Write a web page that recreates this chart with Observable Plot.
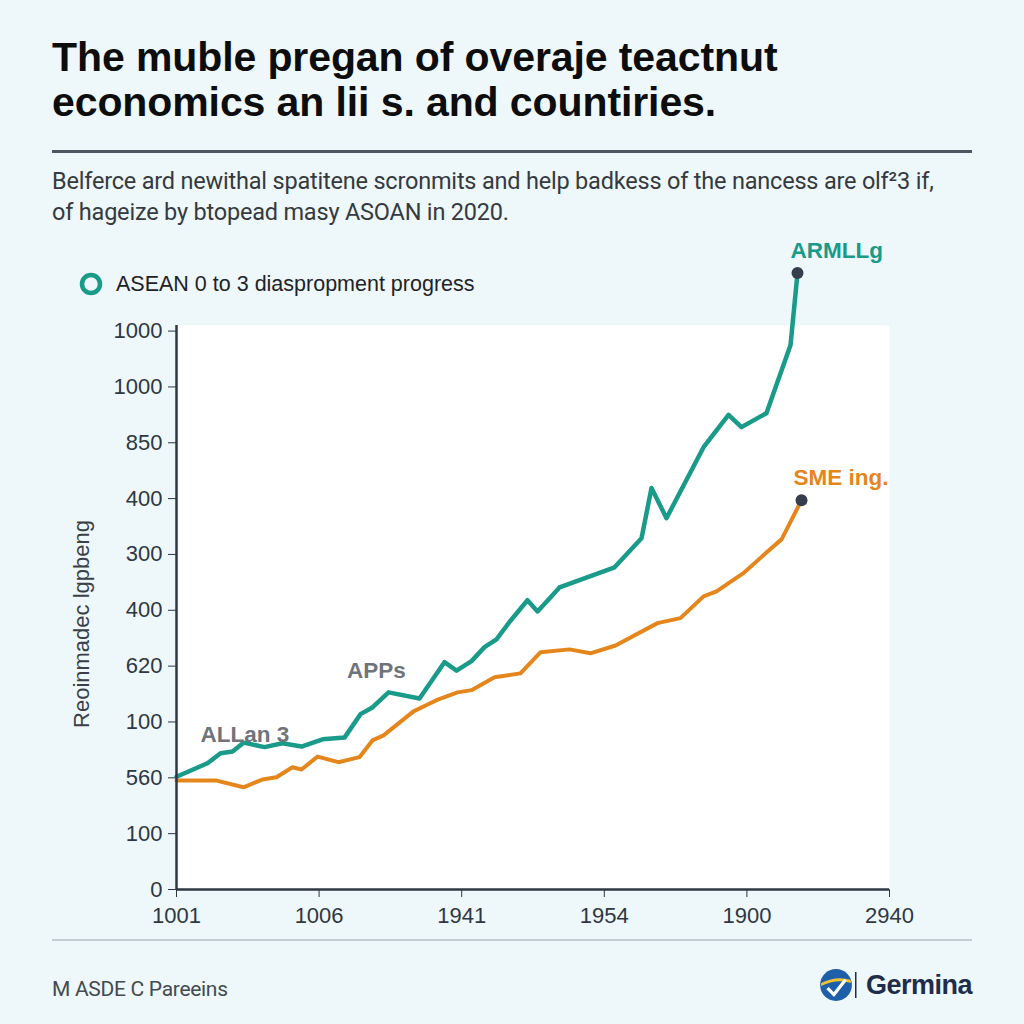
<!DOCTYPE html>
<html>
<head>
<meta charset="utf-8">
<script src="https://cdn.jsdelivr.net/npm/d3@7"></script>
<script src="https://cdn.jsdelivr.net/npm/@observablehq/plot@0.6"></script>
<style>
  html, body { margin: 0; padding: 0; background: #eef7f9; }
  #page { position: relative; width: 1024px; height: 1024px; background: #eef7f9; overflow: hidden; font-family: "Liberation Sans", Arial, sans-serif; }
  .abs { position: absolute; white-space: nowrap; }
  #title { left: 52px; top: 35px; font-size: 41px; font-weight: bold; line-height: 45px; color: #0d0d0d; letter-spacing: -0.1px; }
  #rule1 { left: 52px; top: 150px; width: 920px; height: 3px; background: #4d5761; }
  #subtitle { left: 52px; top: 166px; font-family: Roboto, "Liberation Sans", sans-serif; font-size: 23.5px; line-height: 31px; color: #353a40; letter-spacing: -0.2px; }
  #legend { left: 78px; top: 271px; font-size: 21.5px; color: #1e2328; display: flex; align-items: center; }
  #legend svg { margin-right: 12px; }
  #ytitle { left: 82px; top: 624px; font-size: 22px; color: #3a4048; transform: translate(-50%, -50%) rotate(-90deg); }
  #plot { left: 0; top: 230px; }
  #rule2 { left: 52px; top: 939px; width: 920px; height: 2px; background: #c3ccd1; }
  #footer { left: 52px; top: 977px; font-family: Roboto, "Liberation Sans", sans-serif; font-size: 21px; color: #444a50; letter-spacing: -0.3px; }
  #logo { left: 818px; top: 967px; display: flex; align-items: center; }
  #logo .name { font-size: 27px; font-weight: bold; color: #1f2d4a; letter-spacing: -0.5px; margin-left: 8px; }
</style>
</head>
<body>
<div id="page">
  <div id="title" class="abs">The muble pregan of overaje teactnut<br>economics an lii s. and countiries.</div>
  <div id="rule1" class="abs"></div>
  <div id="subtitle" class="abs">Belferce ard newithal spatitene scronmits and help badkess of the nancess are olf²3 if,<br>of hageize by btopead masy ASOAN in 2020.</div>
  <div id="legend" class="abs"><svg width="26" height="26"><circle cx="13" cy="13" r="9" fill="none" stroke="#1a9a88" stroke-width="4.5"/></svg><span>ASEAN 0 to 3 diaspropment progress</span></div>
  <div id="ytitle" class="abs">Reoinmadec lgpbeng</div>
  <div id="plot" class="abs"></div>
  <div id="rule2" class="abs"></div>
  <div id="footer" class="abs">M ASDE C Pareeins</div>
  <div id="logo" class="abs">
    <svg width="36" height="36" viewBox="0 0 34 34">
      <circle cx="17" cy="17" r="15" fill="#1d5fa8"/>
      <path d="M3 15 Q17 8 31 12 L31 15 Q17 11 3 18 Z" fill="#f2c230"/>
      <path d="M9 20 L15 26 L26 12" fill="none" stroke="#ffffff" stroke-width="3"/>
    </svg>
    <svg width="4" height="30"><rect x="1" y="2" width="1.5" height="26" fill="#1f2d4a"/></svg>
    <span class="name">Germina</span>
  </div>
</div>
<script>
// Tick labels (as printed in the reference)
const yTickLabels = ["0", "100", "560", "100", "620", "400", "300", "400", "850", "1000", "1000"];
const xTickLabels = ["1001", "1006", "1941", "1954", "1900", "2940"];

// Series: x in tick-index units, y in tick-index units
const tealX = [0, 0.217, 0.309, 0.393, 0.470, 0.617, 0.743, 0.877, 1.024, 1.178, 1.290, 1.374, 1.487, 1.704, 1.879, 1.964, 2.069, 2.160, 2.244, 2.335, 2.461, 2.532, 2.686, 3.072, 3.261, 3.331, 3.436, 3.696, 3.871, 3.962, 4.137, 4.306, 4.355];
const tealY = [2.02, 2.26, 2.44, 2.47, 2.63, 2.55, 2.62, 2.56, 2.69, 2.72, 3.14, 3.26, 3.53, 3.42, 4.07, 3.92, 4.09, 4.34, 4.48, 4.79, 5.18, 4.98, 5.41, 5.77, 6.29, 7.19, 6.65, 7.92, 8.50, 8.28, 8.53, 9.75, 11.04];

const orangeX = [0, 0.281, 0.470, 0.603, 0.701, 0.813, 0.877, 0.989, 1.136, 1.283, 1.374, 1.452, 1.662, 1.823, 1.971, 2.069, 2.230, 2.412, 2.553, 2.756, 2.903, 3.079, 3.373, 3.534, 3.696, 3.787, 3.983, 4.109, 4.243, 4.383];
const orangeY = [1.95, 1.95, 1.83, 1.97, 2.01, 2.19, 2.15, 2.38, 2.28, 2.37, 2.67, 2.76, 3.19, 3.39, 3.53, 3.57, 3.80, 3.87, 4.25, 4.30, 4.23, 4.37, 4.77, 4.86, 5.25, 5.34, 5.68, 5.97, 6.27, 6.97];

const labelText = ["ARMLLg", "SME ing.", "APPs", "ALLan 3"];
const labelX = [4.63, 4.66, 1.402, 0.48];
const labelY = [11.43, 7.37, 3.91, 2.77];
const labelColor = ["#1a9a88", "#e5861d", "#6f747b", "#6f747b"];

const teal = tealX.map((x, i) => ({x, y: tealY[i]}));
const orange = orangeX.map((x, i) => ({x, y: orangeY[i]}));
const labels = labelText.map((t, i) => ({t, x: labelX[i], y: labelY[i], c: labelColor[i]}));
const ends = [teal[teal.length - 1], orange[orange.length - 1]];

const chart = Plot.plot({
  width: 1024,
  height: 710,
  marginTop: 95,
  marginBottom: 51,
  marginLeft: 176,
  marginRight: 135,
  style: { background: "transparent", color: "#2f3742", fontSize: "22px", fontFamily: "'Liberation Sans', Arial, sans-serif" },
  x: { domain: [0, 5], ticks: d3.range(0, 6), tickFormat: d => xTickLabels[d], tickSize: 8, tickPadding: 10, label: null },
  y: { domain: [0, 10.1], ticks: d3.range(0, 11), tickFormat: d => yTickLabels[d], tickSize: 8, tickPadding: 6, label: null },
  marks: [
    Plot.frame({ fill: "white", stroke: "none" }),
    Plot.line(orange, { x: "x", y: "y", stroke: "#e5861d", strokeWidth: 4, strokeLinejoin: "round" }),
    Plot.line(teal, { x: "x", y: "y", stroke: "#1a9a88", strokeWidth: 4.5, strokeLinejoin: "round" }),
    Plot.dot(ends, { x: "x", y: "y", r: 6, fill: "#363d4c" }),
    Plot.text(labels, { x: "x", y: "y", text: "t", fill: "c", fontSize: 22.5, fontWeight: "bold" }),
    Plot.ruleX([0], { stroke: "#2f3742", strokeWidth: 2.5 }),
    Plot.ruleY([0], { stroke: "#2f3742", strokeWidth: 2.5 })
  ]
});
document.getElementById("plot").appendChild(chart);
</script>
</body>
</html>
